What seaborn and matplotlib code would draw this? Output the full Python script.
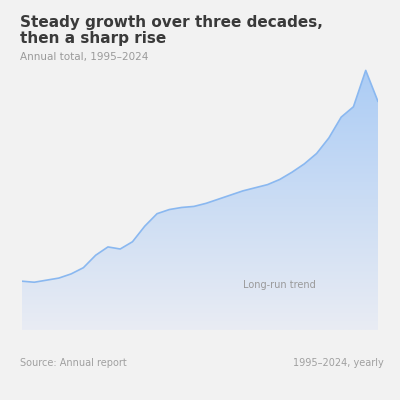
import numpy as np
import pandas as pd
import matplotlib
matplotlib.use("Agg")
import matplotlib.pyplot as plt
import seaborn as sns
from matplotlib.colors import LinearSegmentedColormap

# yearly values (arbitrary units)
years = list(range(1995, 2025))
values = [47, 46, 48, 50, 54, 60, 72, 80, 78, 85,
          100, 112, 116, 118, 119, 122, 126, 130, 134, 137,
          140, 145, 152, 160, 170, 185, 205, 215, 250, 220]

title = "Steady growth over three decades,\nthen a sharp rise"
subtitle = "Annual total, 1995–2024"
note = "Long-run trend"
source_left = "Source: Annual report"
source_right = "1995–2024, yearly"

BG = "#f2f2f2"
LINE = "#8ab8f0"

sns.set_theme(style="white")
plt.rcParams["font.family"] = ["DejaVu Sans"]

df = pd.DataFrame({"year": years, "value": values})

fig = plt.figure(figsize=(4, 4), dpi=100, facecolor=BG)
ax = fig.add_axes([0.055, 0.175, 0.89, 0.675])
ax.set_facecolor(BG)

sns.lineplot(data=df, x="year", y="value", ax=ax, color=LINE, linewidth=1.2)

# gradient fill under the line
poly = ax.fill_between(df["year"], df["value"], 0, color="none")
cmap = LinearSegmentedColormap.from_list("fade", ["#e9ecf3", "#a9cbf5"])
grad = np.linspace(0, 1, 256).reshape(-1, 1)
ymax = max(values) * 1.04
img = ax.imshow(grad, cmap=cmap, aspect="auto", origin="lower",
                extent=[years[0], years[-1], 0, ymax], zorder=1)
img.set_clip_path(poly.get_paths()[0], transform=ax.transData)

ax.set_xlim(years[0], years[-1])
ax.set_ylim(0, ymax)
ax.set_xlabel("")
ax.set_ylabel("")
ax.set_xticks([])
ax.set_yticks([])
sns.despine(ax=ax, left=True, bottom=True)

ax.text(2016, 40, note, fontsize=7, color="#9a9a9a", ha="center")

fig.text(0.05, 0.885, title, fontsize=11, fontweight="bold",
         color="#3a3a3a", ha="left", va="bottom", linespacing=1.1)
fig.text(0.05, 0.845, subtitle, fontsize=7.5, color="#9a9a9a",
         ha="left", va="bottom")

fig.text(0.05, 0.085, source_left, fontsize=7, color="#a0a0a0", ha="left")
fig.text(0.96, 0.085, source_right, fontsize=7, color="#a0a0a0", ha="right")

fig.savefig("out.png", dpi=100, facecolor=BG)
